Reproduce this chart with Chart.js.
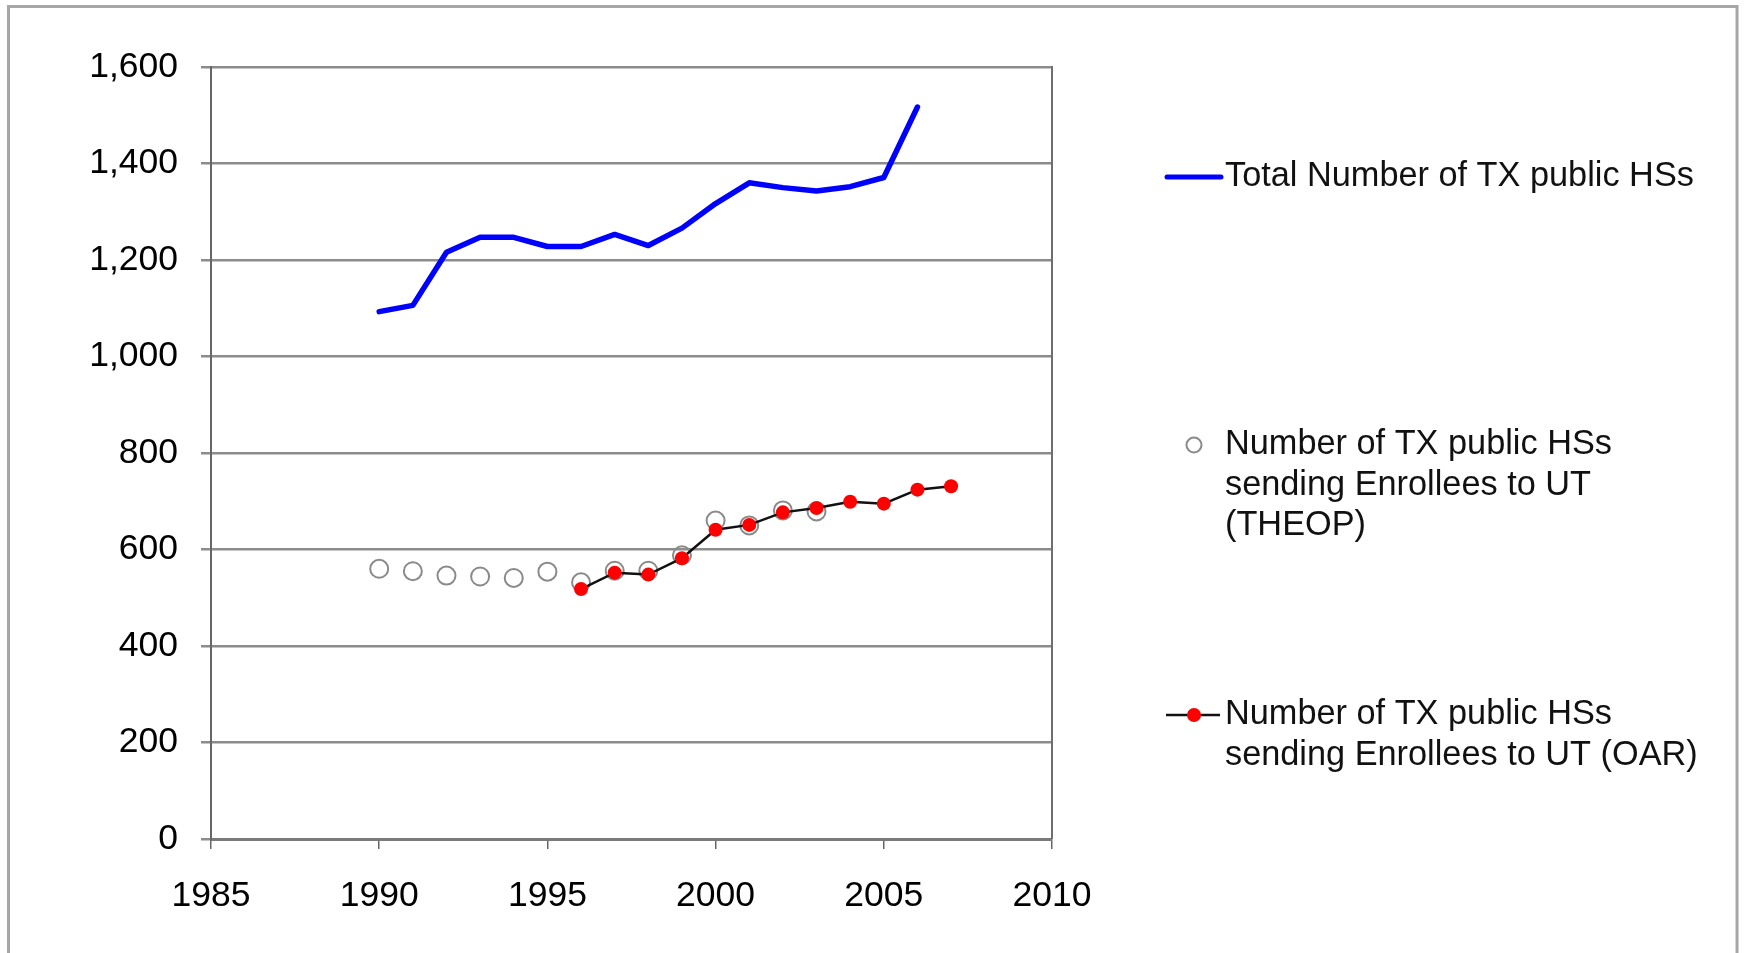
<!DOCTYPE html>
<html>
<head>
<meta charset="utf-8">
<title>TX public high schools</title>
<script src="https://cdn.jsdelivr.net/npm/chart.js@4/dist/chart.umd.min.js"></script>
<style>
  html, body { margin: 0; padding: 0; background: #fff; }
  #wrap { position: relative; width: 1745px; height: 953px; }
  canvas { display: block; }
</style>
</head>
<body>
<div id="wrap"><canvas id="c" width="1745" height="953"></canvas></div>
<script>
// School years on the horizontal axis
const years = [1990, 1991, 1992, 1993, 1994, 1995, 1996, 1997, 1998, 1999,
               2000, 2001, 2002, 2003, 2004, 2005, 2006, 2007];

// Total number of Texas public high schools
const totalHS = [1093, 1106, 1216, 1247, 1247, 1228, 1228, 1253, 1230, 1266,
                 1317, 1360, 1350, 1343, 1352, 1371, 1517, null];

// High schools sending enrollees to UT, THEOP records
const theopHS = [560, 555, 546, 544, 541, 554, 532, 556, 556, 588,
                 660, 650, 681, 679, null, null, null, null];

// High schools sending enrollees to UT, OAR records
const oarHS = [null, null, null, null, null, null, 518, 552, 548, 582,
               641, 651, 677, 686, 699, 695, 724, 731];

// Axis ranges and ticks
const xTicks = [1985, 1990, 1995, 2000, 2005, 2010];
const yTicks = [0, 200, 400, 600, 800, 1000, 1200, 1400, 1600];

const seriesNames = [
  ['Total Number of TX public HSs'],
  ['Number of TX public HSs', 'sending Enrollees to UT', '(THEOP)'],
  ['Number of TX public HSs', 'sending Enrollees to UT (OAR)']
];

const FONT = '"Liberation Sans", Arial, sans-serif';

function toPoints(values) {
  const pts = [];
  values.forEach((v, i) => { if (v !== null) pts.push({ x: years[i], y: v }); });
  return pts;
}

// Outer frame, right plot border and the legend block
const decor = {
  id: 'decor',
  beforeDraw(chart) {
    const ctx = chart.ctx;
    ctx.save();
    ctx.fillStyle = '#fff';
    ctx.fillRect(0, 0, chart.width, chart.height);
    ctx.strokeStyle = '#a6a6a6';
    ctx.lineWidth = 3;
    ctx.strokeRect(8.5, 6.5, 1728.5, 1000);
    ctx.restore();
  },
  afterDatasetsDraw(chart) {
    const ctx = chart.ctx;
    const a = chart.chartArea;
    ctx.save();
    ctx.strokeStyle = '#6e6e6e';
    ctx.lineWidth = 2;
    ctx.beginPath();
    ctx.moveTo(a.right, a.top - 1);
    ctx.lineTo(a.right, a.bottom);
    ctx.stroke();

    // legend
    const ds = chart.data.datasets;
    const textX = 1225, symX = 1194, lineH = 40.5;
    const rows = [177, 445, 715];
    ctx.font = '34.3px ' + FONT;
    ctx.fillStyle = '#111';
    ctx.textAlign = 'left';
    ctx.textBaseline = 'middle';
    rows.forEach((y0, k) => {
      seriesNames[k].forEach((t, j) => ctx.fillText(t, textX, y0 + j * lineH));
    });
    // Total line sample
    ctx.strokeStyle = ds[0].borderColor;
    ctx.lineWidth = 5;
    ctx.lineCap = 'round';
    ctx.beginPath(); ctx.moveTo(1167, rows[0]); ctx.lineTo(1221, rows[0]); ctx.stroke();
    // THEOP circle
    ctx.strokeStyle = ds[1].pointBorderColor;
    ctx.lineWidth = 2;
    ctx.beginPath(); ctx.arc(symX, rows[1], 7.5, 0, Math.PI * 2); ctx.stroke();
    // OAR line with dot
    ctx.strokeStyle = ds[2].borderColor;
    ctx.lineWidth = 2.5;
    ctx.lineCap = 'butt';
    ctx.beginPath(); ctx.moveTo(1166, rows[2]); ctx.lineTo(1220, rows[2]); ctx.stroke();
    ctx.fillStyle = ds[2].pointBackgroundColor;
    ctx.beginPath(); ctx.arc(symX, rows[2], 7, 0, Math.PI * 2); ctx.fill();
    ctx.restore();
  }
};

new Chart(document.getElementById('c'), {
  type: 'line',
  data: {
    datasets: [
      {
        label: seriesNames[0].join(' '),
        data: toPoints(totalHS),
        borderColor: '#0000ff',
        borderWidth: 5.5,
        borderCapStyle: 'round',
        borderJoinStyle: 'round',
        pointRadius: 0,
        tension: 0,
        order: 3
      },
      {
        label: seriesNames[1].join(' '),
        data: toPoints(theopHS),
        showLine: false,
        pointStyle: 'circle',
        pointRadius: 9,
        pointBorderWidth: 2,
        pointBorderColor: '#8a8a8a',
        pointBackgroundColor: 'rgba(255,255,255,0)',
        order: 2
      },
      {
        label: seriesNames[2].join(' '),
        data: toPoints(oarHS),
        borderColor: '#111111',
        borderWidth: 2.5,
        pointRadius: 7,
        pointBorderWidth: 0,
        pointBackgroundColor: '#ff0000',
        pointBorderColor: '#ff0000',
        tension: 0,
        order: 1
      }
    ]
  },
  options: {
    responsive: false,
    animation: false,
    events: [],
    layout: { padding: { top: 67, right: 693, left: 0, bottom: 0 } },
    plugins: { legend: { display: false }, tooltip: { enabled: false } },
    scales: {
      x: {
        type: 'linear',
        min: 1985,
        max: 2010,
        afterBuildTicks(scale) { scale.ticks = xTicks.map(v => ({ value: v })); },
        afterFit(scale) { scale.height = 114; },
        ticks: {
          callback: v => String(v),
          color: '#000',
          font: { family: FONT, size: 35.5 },
          padding: 26,
          maxRotation: 0
        },
        grid: { drawOnChartArea: false, drawTicks: true, tickLength: 10, color: '#666', lineWidth: 1.5 },
        border: { display: true, color: '#7a7a7a', width: 3 }
      },
      y: {
        min: 0,
        max: 1600,
        afterBuildTicks(scale) { scale.ticks = yTicks.map(v => ({ value: v })); },
        afterFit(scale) { scale.width = 211; },
        ticks: {
          callback: v => v.toLocaleString('en-US'),
          color: '#000',
          font: { family: FONT, size: 35.5 },
          padding: 23
        },
        grid: { drawOnChartArea: true, drawTicks: true, tickLength: 10, color: '#8c8c8c', lineWidth: 2.5 },
        border: { display: true, color: '#666', width: 2 }
      }
    }
  },
  plugins: [decor]
});
</script>
</body>
</html>
